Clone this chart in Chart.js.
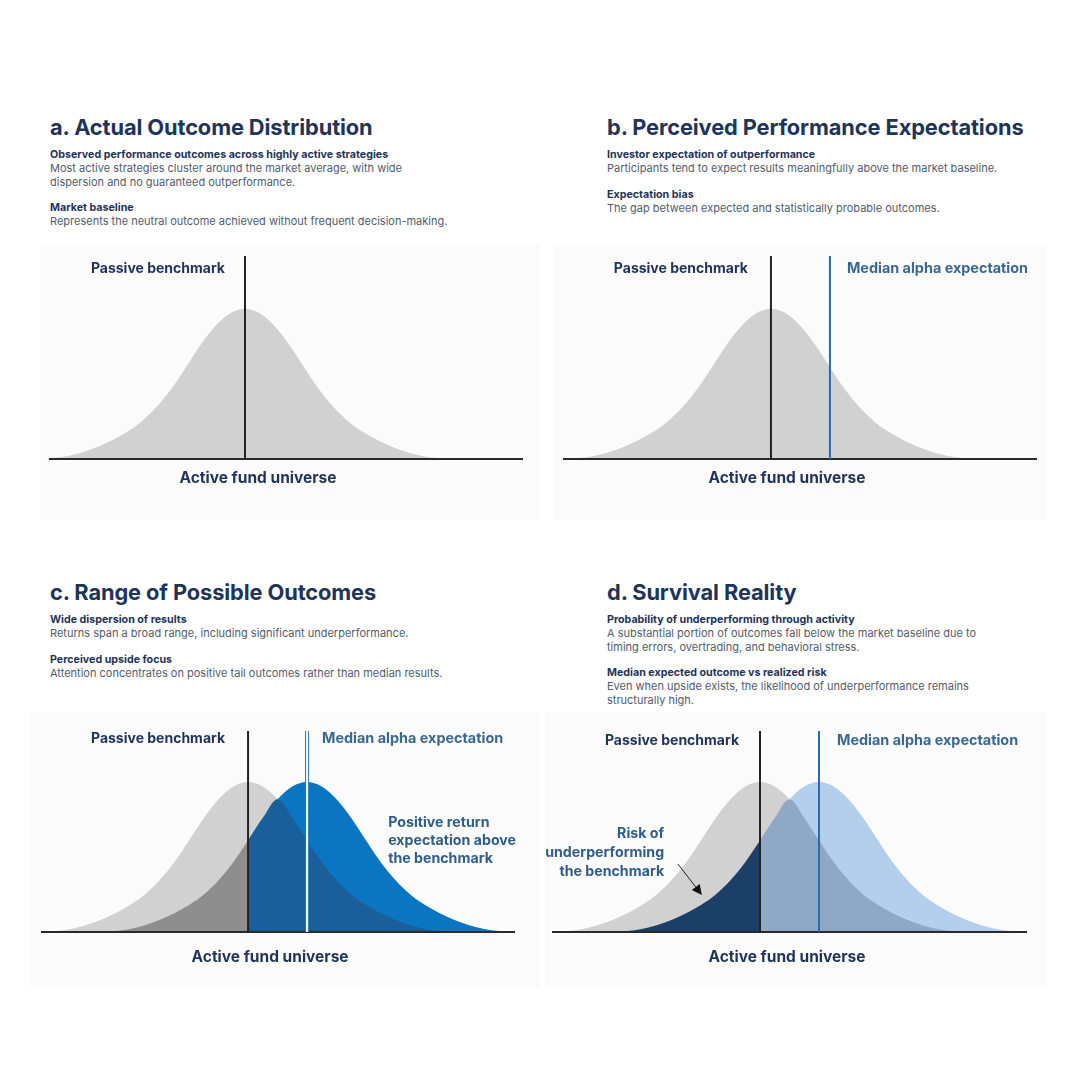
<!DOCTYPE html>
<html>
<head>
<meta charset="utf-8">
<script src="https://cdn.jsdelivr.net/npm/chart.js@4.4.1/dist/chart.umd.min.js"></script>
<style>
body{margin:0;background:#fff;width:1080px;height:1080px;position:relative;overflow:hidden;font-family:Inter,'Noto Sans',sans-serif;}
.txt{position:absolute;width:480px;color:#1f3459}
.txt h1{font-size:21.8px;font-weight:700;margin:0 0 8px;line-height:26px;letter-spacing:-0.1px}
.txt h3{font-size:10.7px;font-weight:700;margin:0;line-height:14px}
.txt p{font-size:11px;font-weight:400;margin:0 0 12px;line-height:13.5px;color:#525c6c}
.box{position:absolute;background:#fbfbfb}
</style>
</head>
<body>

<div class="txt" style="left:50px;top:114px">
  <h1>a. Actual Outcome Distribution</h1>
  <h3>Observed performance outcomes across highly active strategies</h3>
  <p>Most active strategies cluster around the market average, with wide<br>dispersion and no guaranteed outperformance.</p>
  <h3>Market baseline</h3>
  <p>Represents the neutral outcome achieved without frequent decision-making.</p>
</div>
<div class="txt" style="left:607px;top:114px">
  <h1>b. Perceived Performance Expectations</h1>
  <h3>Investor expectation of outperformance</h3>
  <p>Participants tend to expect results meaningfully above the market baseline.</p>
  <h3>Expectation bias</h3>
  <p>The gap between expected and statistically probable outcomes.</p>
</div>
<div class="txt" style="left:50px;top:579px">
  <h1>c. Range of Possible Outcomes</h1>
  <h3>Wide dispersion of results</h3>
  <p>Returns span a broad range, including significant underperformance.</p>
  <h3>Perceived upside focus</h3>
  <p>Attention concentrates on positive tail outcomes rather than median results.</p>
</div>
<div class="txt" style="left:607px;top:579px">
  <h1>d. Survival Reality</h1>
  <h3>Probability of underperforming through activity</h3>
  <p>A substantial portion of outcomes fall below the market baseline due to<br>timing errors, overtrading, and behavioral stress.</p>
  <h3>Median expected outcome vs realized risk</h3>
  <p>Even when upside exists, the likelihood of underperformance remains<br>structurally high.</p>
</div>

<div class="box" style="left:40px;top:245px;width:500px;height:275px"><canvas id="ca" width="500" height="275"></canvas></div>
<div class="box" style="left:555px;top:245px;width:490px;height:275px"><canvas id="cb" width="490" height="275"></canvas></div>
<div class="box" style="left:30px;top:712px;width:510px;height:275px"><canvas id="cc" width="510" height="275"></canvas></div>
<div class="box" style="left:545px;top:712px;width:500px;height:275px"><canvas id="cd" width="500" height="275"></canvas></div>

<script>
/* ---------- data (relative height of distribution, peak = 100) ---------- */
var X_POS   = [-7,-6.5,-6,-5.5,-5,-4.5,-4,-3.5,-3,-2.5,-2,-1.5,-1,-0.5,0,0.5,1,1.5,2,2.5,3,3.5,4,4.5,5,5.5,6,6.5,7,7.5,8,8.5,9];
var PASSIVE = [0,0.6,2,4.5,8,12.5,18,25,34.5,46.5,61,76,88.5,97,100,97,88.5,76,61,46.5,34.5,25,18,12.5,8,4.5,2,0.6,0,0,0,0,0];
var ACTIVE  = [0,0,0,0,0,0.6,2,4.5,8,12.5,18,25,34.5,46.5,61,76,88.5,97,100,97,88.5,76,61,46.5,34.5,25,18,12.5,8,4.5,2,0.6,0];
var BENCHMARK = 0;      // passive benchmark position
var MEDIAN_ALPHA = 2;   // median alpha expectation position

var NAVY = '#1f3459', STEEL = '#3a6891', NOTE = '#2f5e88';
var FONT = 'Inter, "Noto Sans", sans-serif';

function pts(arr, from, to){
  return X_POS.map(function(x,i){ return {x:x, y:arr[i]}; })
    .filter(function(p){ return p.x>=from && p.x<=to; });
}
function overlap(from, to){
  return X_POS.map(function(x,i){ return {x:x, y:Math.min(PASSIVE[i], ACTIVE[i])}; })
    .filter(function(p){ return p.x>=from && p.x<=to; });
}
function area(data, color, order){
  return { data:data, backgroundColor:color, borderColor:color, borderWidth:0, fill:'origin', order:order,
    cubicInterpolationMode:'monotone', pointRadius:0 };
}
function vline(x, top, color, w, order){
  return { data:[{x:x,y:0},{x:x,y:top}], borderColor:color, borderWidth:w, fill:false, order:order,
    tension:0, pointRadius:0, clip:false };
}

/* ---------- labels / arrow on top of the chart ---------- */
var notesPlugin = {
  id:'notes',
  afterDatasetsDraw:function(chart){
    var o = chart.options.plugins.notes || {};
    var ctx = chart.ctx, xs = chart.scales.x, ys = chart.scales.y;
    ctx.save();
    (o.items||[]).forEach(function(n){
      ctx.font = (n.weight||'700')+' '+(n.size||14)+'px '+FONT;
      ctx.fillStyle = n.color || NAVY;
      ctx.textAlign = n.align || 'left';
      ctx.textBaseline = 'middle';
      var px = xs.getPixelForValue(n.x) + (n.dx||0);
      var py = n.dy!=null ? chart.chartArea.bottom + n.dy : ys.getPixelForValue(n.y);
      [].concat(n.text).forEach(function(t,k){ ctx.fillText(t, px, py + k*(n.lh||18)); });
    });
    if(o.arrow){
      var a = o.arrow;
      var x1 = xs.getPixelForValue(a.from[0]), y1 = ys.getPixelForValue(a.from[1]);
      var x2 = xs.getPixelForValue(a.to[0]),   y2 = ys.getPixelForValue(a.to[1]);
      var ang = Math.atan2(y2-y1, x2-x1), L = 10, W = 5;
      ctx.strokeStyle = '#222'; ctx.lineWidth = 1;
      ctx.beginPath(); ctx.moveTo(x1,y1);
      ctx.lineTo(x2-Math.cos(ang)*L, y2-Math.sin(ang)*L); ctx.stroke();
      ctx.fillStyle = '#111';
      ctx.beginPath(); ctx.moveTo(x2,y2);
      ctx.lineTo(x2-Math.cos(ang)*L+Math.sin(ang)*W, y2-Math.sin(ang)*L-Math.cos(ang)*W);
      ctx.lineTo(x2-Math.cos(ang)*L-Math.sin(ang)*W, y2-Math.sin(ang)*L+Math.cos(ang)*W);
      ctx.closePath(); ctx.fill();
    }
    ctx.restore();
  }
};

function draw(id, p){
  var ds = p.layers.concat([
    { data:[{x:p.xmin,y:0},{x:p.xmax,y:0}], borderColor:'#2a2a2a', borderWidth:2, fill:false, order:3, tension:0, pointRadius:0, clip:false },
    vline(BENCHMARK, p.ymax, '#222', 2, 2)
  ]).concat(p.extra||[]);
  new Chart(document.getElementById(id), {
    type:'line',
    data:{ datasets: ds },
    options:{
      responsive:false, animation:false, events:[],
      layout:{ padding:p.pad },
      scales:{ x:{type:'linear', min:p.xmin, max:p.xmax, display:false},
               y:{min:0, max:p.ymax, display:false} },
      plugins:{ legend:{display:false}, tooltip:{enabled:false}, notes:p.notes }
    },
    plugins:[notesPlugin]
  });
}

var AXIS_TITLE = 'Active fund universe';

/* a */
draw('ca', {
  xmin:-6.64, xmax:9.42, ymax:135, pad:{left:9,right:17,top:11,bottom:61},
  layers:[ area(pts(PASSIVE,-7,9), '#d1d1d1', 10) ],
  notes:{ items:[
    {text:'Passive benchmark', x:BENCHMARK, dx:-20, y:126.5, align:'right'},
    {text:AXIS_TITLE, x:BENCHMARK, dx:13, dy:19, align:'center', size:15.5}
  ]}
});

/* b */
draw('cb', {
  xmin:-7.05, xmax:9.02, ymax:135, pad:{left:8,right:8,top:11,bottom:61},
  layers:[ area(pts(PASSIVE,-7,9), '#d1d1d1', 10) ],
  extra:[ vline(MEDIAN_ALPHA, 135, '#2a6cab', 2, 1) ],
  notes:{ items:[
    {text:'Passive benchmark', x:BENCHMARK, dx:-23, y:126.5, align:'right'},
    {text:'Median alpha expectation', x:MEDIAN_ALPHA, dx:17, y:126.5, align:'left', color:STEEL, size:14.4},
    {text:AXIS_TITLE, x:BENCHMARK, dx:16, dy:19, align:'center', size:15.5}
  ]}
});

/* c */
draw('cc', {
  xmin:-7.02, xmax:9.05, ymax:134, pad:{left:11,right:25,top:19,bottom:55},
  layers:[
    area(pts(PASSIVE,-7,9), '#d1d1d1', 10),
    area(pts(ACTIVE,-7,BENCHMARK), '#8e8e8e', 9),
    area(pts(ACTIVE,BENCHMARK,9), '#0a75c0', 8),
    area(overlap(BENCHMARK,9), '#1a5e9a', 7)
  ],
  extra:[ vline(MEDIAN_ALPHA, 134, '#1f6fae', 4, 1), vline(MEDIAN_ALPHA, 134, '#e3f5ff', 2.2, 0) ],
  notes:{ items:[
    {text:'Passive benchmark', x:BENCHMARK, dx:-23, y:129, align:'right'},
    {text:'Median alpha expectation', x:MEDIAN_ALPHA, dx:15, y:129, align:'left', color:STEEL, size:14.4},
    {text:['Positive return','expectation above','the benchmark'], x:4.75, y:72.7, align:'left', color:NOTE, lh:18, size:14.2},
    {text:AXIS_TITLE, x:BENCHMARK, dx:22, dy:25, align:'center', size:15.5}
  ]}
});

/* d */
draw('cd', {
  xmin:-7.05, xmax:9.05, ymax:134, pad:{left:7,right:18,top:19,bottom:55},
  layers:[
    area(pts(PASSIVE,-7,9), '#d1d1d1', 10),
    area(pts(ACTIVE,-7,BENCHMARK), '#1b3f67', 9),
    area(pts(ACTIVE,BENCHMARK,9), '#b3cfec', 8),
    area(overlap(BENCHMARK,9), '#8fa8c6', 7)
  ],
  extra:[ vline(MEDIAN_ALPHA, 134, '#2a6cab', 2, 1) ],
  notes:{ items:[
    {text:'Passive benchmark', x:BENCHMARK, dx:-21, y:127.3, align:'right'},
    {text:'Median alpha expectation', x:MEDIAN_ALPHA, dx:18, y:127.3, align:'left', color:STEEL, size:14.4},
    {text:['Risk of','underperforming','the benchmark'], x:-3.25, y:65.3, align:'right', color:NOTE, lh:19, size:14.2},
    {text:AXIS_TITLE, x:BENCHMARK, dx:27, dy:25, align:'center', size:15.5}
  ],
  arrow:{ from:[-2.78,45.3], to:[-1.97,24.7] } }
});
</script>
</body>
</html>
